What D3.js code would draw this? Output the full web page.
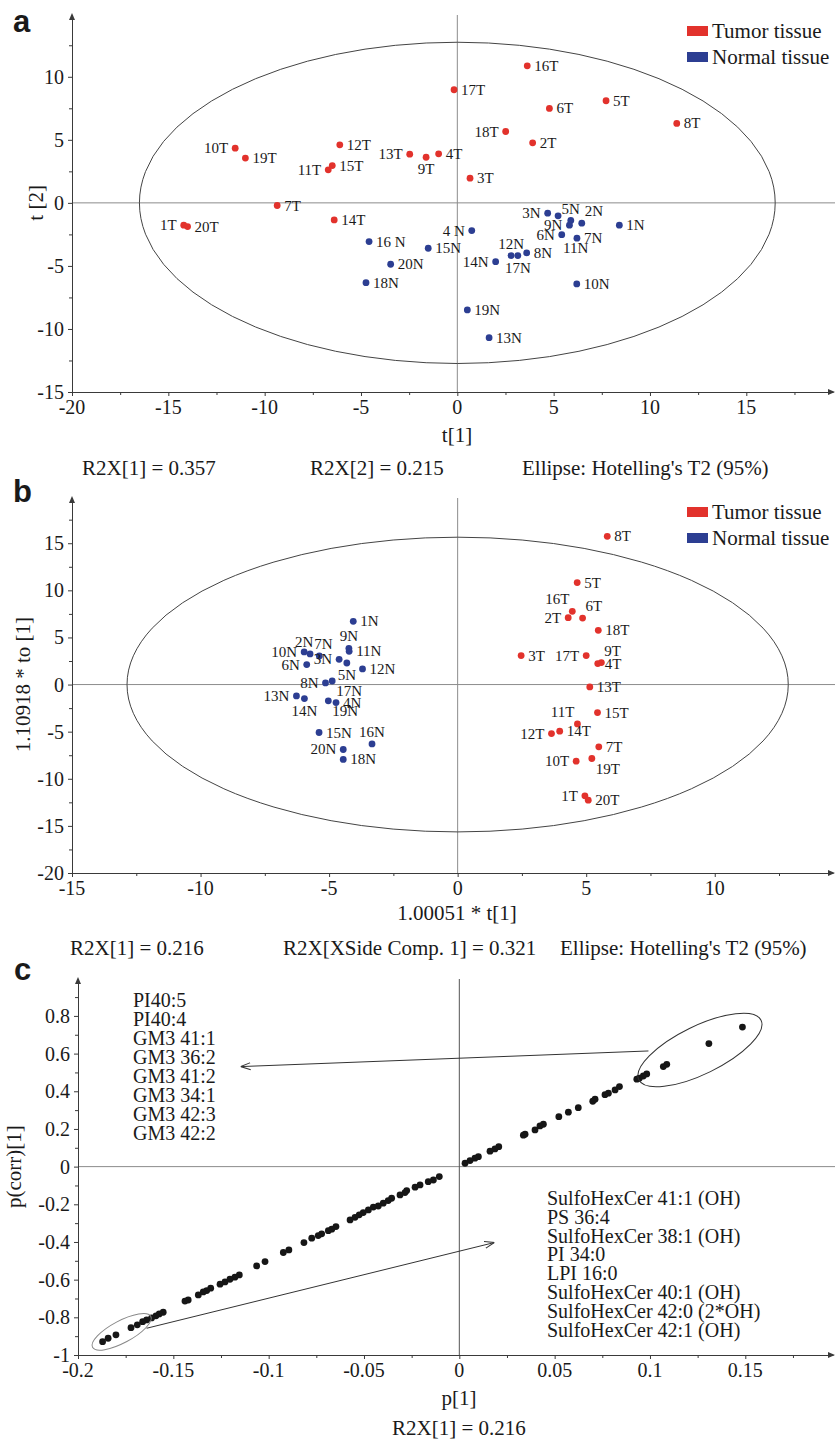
<!DOCTYPE html>
<html>
<head>
<meta charset="utf-8">
<script src="https://cdn.jsdelivr.net/npm/d3@7"></script>
<style>
body{margin:0;background:#fff}
svg text{font-family:"Liberation Serif","Times New Roman",serif;fill:#1a1a1a}
</style>
</head>
<body>
<svg id="fig" width="835" height="1439"></svg>
<script>
'use strict'

// ---------- panel a : PCA scores ----------
const tumorNamesA = ["1T","2T","3T","4T","5T","6T","7T","8T","9T","10T","11T","12T","13T","14T","15T","16T","17T","18T","19T","20T"]
const tumorXA = [-14.2, 3.91, 0.66, -0.97, 7.72, 4.78, -9.35, 11.39, -1.62, -11.53, -6.70, -6.10, -2.47, -6.39, -6.49, 3.63, -0.17, 2.51, -11.00, -14.00]
const tumorYA = [-1.77, 4.76, 1.96, 3.89, 8.10, 7.49, -0.21, 6.30, 3.62, 4.34, 2.62, 4.60, 3.86, -1.35, 2.96, 10.87, 8.97, 5.66, 3.55, -1.88]
const normalNamesA = ["1N","2N","3N","4 N","5N","6N","7N","8N","9N","10N","11N","12N","13N","14N","15N","16 N","17N","18N","19N","20N"]
const normalXA = [8.41, 6.46, 4.69, 0.75, 5.89, 5.42, 6.21, 3.60, 5.82, 6.20, 5.23, 2.79, 1.65, 1.99, -1.51, -4.58, 3.14, -4.74, 0.52, -3.46]
const normalYA = [-1.77, -1.61, -0.82, -2.20, -1.40, -2.52, -2.80, -3.97, -1.77, -6.43, -1.03, -4.18, -10.69, -4.66, -3.60, -3.07, -4.18, -6.33, -8.49, -4.87]
const xTicksA = [-20, -15, -10, -5, 0, 5, 10, 15]
const yTicksA = [-15, -10, -5, 0, 5, 10]
const ellipseA = [16.5, 12.74]
const footA = ["R2X[1] = 0.357", "R2X[2] = 0.215", "Ellipse: Hotelling's T2 (95%)"]

// ---------- panel b : OPLS-DA scores ----------
const tumorNamesB = tumorNamesA
const tumorXB = [4.95, 4.30, 2.47, 5.45, 4.65, 4.86, 5.49, 5.82, 5.59, 4.61, 4.66, 3.65, 5.14, 3.97, 5.44, 4.46, 5.00, 5.47, 5.22, 5.08]
const tumorYB = [-11.81, 7.10, 3.08, 2.23, 10.82, 7.06, -6.61, 15.73, 2.33, -8.13, -4.18, -5.20, -0.25, -4.95, -2.97, 7.77, 3.08, 5.76, -7.85, -12.27]
const normalNamesB = ["1N","2N","3N","4N","5N","6N","7N","8N","9N","10N","11N","12N","13N","14N","15N","16N","17N","18N","19N","20N"]
const normalXB = [-4.06, -5.74, -4.61, -4.73, -4.31, -5.87, -5.38, -5.14, -4.23, -5.97, -4.22, -3.70, -6.27, -5.96, -5.39, -3.33, -4.88, -4.45, -5.03, -4.45]
const normalYB = [6.71, 3.25, 2.68, -1.91, 2.29, 2.12, 3.03, 0.17, 3.85, 3.46, 3.53, 1.66, -1.21, -1.49, -5.09, -6.30, 0.38, -7.95, -1.73, -6.89]
const xTicksB = [-15, -10, -5, 0, 5, 10]
const yTicksB = [-20, -15, -10, -5, 0, 5, 10, 15]
const ellipseB = [12.86, 15.64]
const footB = ["R2X[1] = 0.216", "R2X[XSide Comp. 1] = 0.321", "Ellipse: Hotelling's T2 (95%)"]

// ---------- panel c : S-plot ----------
const loadP = [0.1485, 0.1309, 0.1088, 0.1070, 0.0983, 0.0965, 0.0944, 0.0931, 0.0840, 0.0817, 0.0782, 0.0764,
  0.0712, 0.0700, 0.0624, 0.0572, 0.0522, 0.0441, 0.0423, 0.0397, 0.0345, 0.0336, 0.0207, 0.0187, 0.0161,
  0.0100, 0.0082, 0.0056, 0.0030,
  -0.0105, -0.0136, -0.0163, -0.0206, -0.0232, -0.0276, -0.0285, -0.0311, -0.0355, -0.0373, -0.0399, -0.0425,
  -0.0451, -0.0477, -0.0504, -0.0525, -0.0547, -0.0573, -0.0647, -0.0669, -0.0687, -0.0722, -0.0740, -0.0774,
  -0.0815, -0.0894, -0.0923, -0.1019, -0.1063, -0.1154, -0.1177, -0.1203, -0.1229, -0.1255, -0.1304, -0.1325,
  -0.1343, -0.1369, -0.1422, -0.1439, -0.1553, -0.1574, -0.1591, -0.1614, -0.1640, -0.1661, -0.1689, -0.1722,
  -0.1801, -0.1842, -0.1871]
const loadCorr = [0.741, 0.653, 0.543, 0.531, 0.492, 0.481, 0.469, 0.464, 0.425, 0.407, 0.390, 0.382,
  0.358, 0.347, 0.313, 0.289, 0.265, 0.225, 0.216, 0.195, 0.172, 0.167, 0.106, 0.094, 0.082,
  0.053, 0.045, 0.032, 0.018,
  -0.053, -0.071, -0.080, -0.097, -0.109, -0.127, -0.138, -0.150, -0.168, -0.180, -0.194, -0.209,
  -0.215, -0.230, -0.244, -0.256, -0.269, -0.283, -0.318, -0.332, -0.340, -0.357, -0.366, -0.380,
  -0.403, -0.442, -0.456, -0.504, -0.527, -0.575, -0.587, -0.598, -0.612, -0.624, -0.645, -0.658,
  -0.665, -0.681, -0.708, -0.714, -0.773, -0.782, -0.792, -0.803, -0.814, -0.823, -0.840, -0.855,
  -0.893, -0.911, -0.929]
const xTicksC = [-0.2, -0.15, -0.1, -0.05, 0, 0.05, 0.1, 0.15]
const yTicksC = [-1, -0.8, -0.6, -0.4, -0.2, 0, 0.2, 0.4, 0.6, 0.8]
const upNames = ["PI40:5", "PI40:4", "GM3 41:1", "GM3 36:2", "GM3 41:2", "GM3 34:1", "GM3 42:3", "GM3 42:2"]
const downNames = ["SulfoHexCer 41:1 (OH)", "PS 36:4", "SulfoHexCer 38:1 (OH)", "PI 34:0", "LPI 16:0",
  "SulfoHexCer 40:1 (OH)", "SulfoHexCer 42:0 (2*OH)", "SulfoHexCer 42:1 (OH)"]
const upGroup = [0.1262, 0.619]
const downGroup = [-0.1771, -0.877]
const upArrow = [[0.0992, 0.614], [-0.1147, 0.531]]
const downArrow = [[-0.1640, -0.858], [0.0184, -0.403]]

// label sides (layout only)
const offs = {
	r: [7, 5, 'start'], l: [-7, 5, 'end'], a: [0, -7, 'middle'], b: [0, 17, 'middle'],
	ar: [3, -7, 'start'], al: [-3, -7, 'end'], br: [4, 15, 'start'], bl: [-4, 15, 'end'],
	aL: [-6, -7, 'middle'], aR: [4, -7, 'middle'], lowB: [5, 37, 'start']
}
const sideA = {
	"10T":"l","19T":"r","12T":"r","11T":"l","15T":"r","13T":"l","7T":"r","14T":"r","1T":"l","20T":"r",
	"16T":"r","17T":"r","6T":"r","5T":"r","8T":"r","18T":"l","2T":"r","9T":"b","4T":"r","3T":"r",
	"1N":"r","2N":"ar","3N":"l","4 N":"l","5N":"a","6N":"l","7N":"r","8N":"r","9N":"l","10N":"r",
	"11N":"lowB","12N":"a","13N":"r","14N":"l","15N":"r","16 N":"r","17N":"b","18N":"r","19N":"r","20N":"r"
}
const sideB = {
	"8T":"r","5T":"r","16T":"al","2T":"l","6T":"ar","18T":"r","3T":"r","17T":"l","9T":"ar","4T":"r",
	"13T":"r","15T":"r","11T":"al","12T":"l","14T":"r","7T":"r","10T":"l","19T":"br","1T":"l","20T":"r",
	"1N":"r","2N":"aL","10N":"l","7N":"aR","9N":"a","11N":"r","6N":"l","3N":"l","5N":"b","12N":"r",
	"8N":"l","17N":"br","13N":"l","14N":"b","4N":"r","19N":"br","15N":"r","16N":"a","20N":"l","18N":"r"
}

const svg = d3.select('#fig')
const red = '#e2322c', blue = '#2c3e92'
const axisCol = '#3a3a3a', zeroCol = '#8c8c8c'

function minorOf(ticks, n){
	let step = (ticks[1] - ticks[0]) / n, out = []
	for (let i = 0; i < ticks.length; i++){
		for (let k = 1; k < n; k++) out.push(+(ticks[i] + k * step).toFixed(5))
	}
	out.unshift(+(ticks[0] - step).toFixed(5))
	return out
}

function drawAxes(g, x, y, xt, yt){
	let bottom = y.range()[0], left = x.range()[0]
	let xr = x.range()[1], yt0 = y.range()[1]
	let xa = g.append('g').attr('transform', 'translate(0,' + bottom + ')')
		.call(d3.axisBottom(x).tickValues(xt).tickSize(4).tickSizeOuter(0).tickFormat(''))
	let xm = g.append('g').attr('transform', 'translate(0,' + bottom + ')')
		.call(d3.axisBottom(x).tickValues(minorOf(xt, 2).filter(v => x(v) > left && x(v) < xr - 6)).tickSize(3).tickFormat(''))
	let ya = g.append('g').attr('transform', 'translate(' + left + ',0)')
		.call(d3.axisLeft(y).tickValues(yt).tickSize(4).tickSizeOuter(0).tickFormat(''))
	let ym = g.append('g').attr('transform', 'translate(' + left + ',0)')
		.call(d3.axisLeft(y).tickValues(minorOf(yt, 2).filter(v => y(v) < bottom && y(v) > yt0 + 6)).tickSize(3).tickFormat(''))
	xm.select('.domain').remove()
	ym.select('.domain').remove()
	;[xa, xm, ya, ym].forEach(a => {
		a.selectAll('line').attr('stroke', axisCol)
		a.selectAll('.domain').attr('stroke', axisCol)
	})
	// tick labels in the figure's serif face
	g.selectAll(null).data(xt).enter().append('text')
		.attr('x', d => x(d)).attr('y', bottom + 22).attr('text-anchor', 'middle')
		.attr('font-size', 20).text(d => String(d))
	g.selectAll(null).data(yt).enter().append('text')
		.attr('x', left - 8).attr('y', d => y(d) + 7).attr('text-anchor', 'end')
		.attr('font-size', 20).text(d => String(d))
	// arrow heads
	g.append('path').attr('d', 'M' + (xr + 2) + ',' + bottom + 'l-7,-3l0,6z').attr('fill', axisCol)
	g.append('path').attr('d', 'M' + left + ',' + (yt0 - 2) + 'l-3,7l6,0z').attr('fill', axisCol)
}

function drawScores(o){
	let g = svg.append('g')
	let x = d3.scaleLinear().domain(o.xDom).range([o.left, 833])
	let y = d3.scaleLinear().domain(o.yDom).range([o.bottom, o.top])

	g.append('line').attr('x1', o.left).attr('x2', 835).attr('y1', y(0)).attr('y2', y(0)).attr('stroke', zeroCol)
	g.append('line').attr('x1', x(0)).attr('x2', x(0)).attr('y1', o.top).attr('y2', o.bottom).attr('stroke', zeroCol)
	g.append('ellipse').attr('cx', x(0)).attr('cy', y(0))
		.attr('rx', x(o.ell[0]) - x(0)).attr('ry', y(0) - y(o.ell[1]))
		.attr('fill', 'none').attr('stroke', '#444').attr('stroke-width', 1)

	drawAxes(g, x, y, o.xt, o.yt)

	o.series.forEach(function(s){
		let pts = s.names.map(function(n, i){ return {n: n, x: s.xs[i], y: s.ys[i]} })
		g.selectAll(null).data(pts).enter().append('circle')
			.attr('cx', d => x(d.x)).attr('cy', d => y(d.y)).attr('r', 3.4).attr('fill', s.color)
		g.selectAll(null).data(pts).enter().append('text')
			.attr('x', d => x(d.x) + offs[o.side[d.n]][0])
			.attr('y', d => y(d.y) + offs[o.side[d.n]][1])
			.attr('text-anchor', d => offs[o.side[d.n]][2])
			.attr('font-size', 15)
			.text(d => d.n)
	})

	// legend
	;[["Tumor tissue", red], ["Normal tissue", blue]].forEach(function(l, i){
		g.append('rect').attr('x', 687).attr('y', o.legTop + i * 26).attr('width', 21).attr('height', 10).attr('fill', l[1])
		g.append('text').attr('x', 712).attr('y', o.legTop + 12 + i * 26).attr('font-size', 21).text(l[0])
	})

	g.append('text').attr('x', 457).attr('y', o.xLabY).attr('text-anchor', 'middle').attr('font-size', 21).text(o.xLab)
	g.append('text').attr('transform', 'translate(' + o.yLabX + ',' + y(0) + ') rotate(-90)')
		.attr('text-anchor', 'middle').attr('font-size', 21).text(o.yLab)
	o.foot.forEach(function(t, i){
		g.append('text').attr('x', o.footX[i]).attr('y', o.footY).attr('font-size', 21).text(t)
	})
	g.append('text').attr('x', 13).attr('y', o.letterY).attr('font-size', 31).attr('font-weight', 'bold')
		.style('font-family', '"Liberation Sans", Arial, sans-serif').text(o.letter)
}

drawScores({
	letter: 'a', letterY: 32, left: 72, top: 15, bottom: 392,
	xDom: [-20, 19.5], yDom: [-15, 14.9], xt: xTicksA, yt: yTicksA, ell: ellipseA,
	series: [{names: tumorNamesA, xs: tumorXA, ys: tumorYA, color: red},
	         {names: normalNamesA, xs: normalXA, ys: normalYA, color: blue}],
	side: sideA, legTop: 26,
	xLab: 't[1]', xLabY: 442, yLab: 't [2]', yLabX: 43,
	foot: footA, footX: [82, 310, 522], footY: 475
})

drawScores({
	letter: 'b', letterY: 502, left: 72, top: 498, bottom: 873,
	xDom: [-15, 14.6], yDom: [-20, 19.8], xt: xTicksB, yt: yTicksB, ell: ellipseB,
	series: [{names: tumorNamesB, xs: tumorXB, ys: tumorYB, color: red},
	         {names: normalNamesB, xs: normalXB, ys: normalYB, color: blue}],
	side: sideB, legTop: 507,
	xLab: '1.00051 * t[1]', xLabY: 920, yLab: '1.10918 * to [1]', yLabX: 30,
	foot: footB, footX: [70, 283, 560], footY: 955
})

// ---------- panel c ----------
function drawSPlot(){
	let g = svg.append('g')
	let x = d3.scaleLinear().domain([-0.2, 0.196]).range([78, 833])
	let y = d3.scaleLinear().domain([-1, 0.996]).range([1355, 979])

	g.append('line').attr('x1', 78).attr('x2', 835).attr('y1', y(0)).attr('y2', y(0)).attr('stroke', zeroCol)
	g.append('line').attr('x1', x(0)).attr('x2', x(0)).attr('y1', 979).attr('y2', 1355).attr('stroke', '#555')

	drawAxes(g, x, y, xTicksC, yTicksC)

	let pts = loadP.map((v, i) => [v, loadCorr[i]])
	g.selectAll(null).data(pts).enter().append('circle')
		.attr('cx', d => x(d[0])).attr('cy', d => y(d[1])).attr('r', 3.4).attr('fill', '#161616')

	g.append('ellipse').attr('cx', 0).attr('cy', 0).attr('rx', 68).attr('ry', 24)
		.attr('transform', 'translate(' + x(upGroup[0]) + ',' + y(upGroup[1]) + ') rotate(-26)')
		.attr('fill', 'none').attr('stroke', '#333')
	g.append('ellipse').attr('cx', 0).attr('cy', 0).attr('rx', 33).attr('ry', 11)
		.attr('transform', 'translate(' + x(downGroup[0]) + ',' + y(downGroup[1]) + ') rotate(-28)')
		.attr('fill', 'none').attr('stroke', '#888')

	svg.append('defs').append('marker').attr('id', 'open').attr('viewBox', '0 -5 10 10')
		.attr('refX', 10).attr('refY', 0).attr('markerWidth', 10).attr('markerHeight', 10)
		.attr('markerUnits', 'userSpaceOnUse').attr('orient', 'auto')
		.append('path').attr('d', 'M0,-3.6L10,0L0,3.6').attr('fill', 'none').attr('stroke', '#333').attr('stroke-width', 1)
	;[upArrow, downArrow].forEach(function(a){
		g.append('line').attr('x1', x(a[0][0])).attr('y1', y(a[0][1])).attr('x2', x(a[1][0])).attr('y2', y(a[1][1]))
			.attr('stroke', '#333').attr('marker-end', 'url(#open)')
	})

	g.selectAll(null).data(upNames).enter().append('text')
		.attr('x', 133).attr('y', (d, i) => 1007 + i * 19).attr('font-size', 20).text(d => d)
	g.selectAll(null).data(downNames).enter().append('text')
		.attr('x', 547).attr('y', (d, i) => 1205 + i * 18.8).attr('font-size', 20).text(d => d)

	g.append('text').attr('x', 459).attr('y', 1405).attr('text-anchor', 'middle').attr('font-size', 21).text('p[1]')
	g.append('text').attr('x', 459).attr('y', 1435).attr('text-anchor', 'middle').attr('font-size', 21).text('R2X[1] = 0.216')
	g.append('text').attr('transform', 'translate(21,' + y(0) + ') rotate(-90)')
		.attr('text-anchor', 'middle').attr('font-size', 21).text('p(corr)[1]')
	g.append('text').attr('x', 14).attr('y', 980).attr('font-size', 31).attr('font-weight', 'bold')
		.style('font-family', '"Liberation Sans", Arial, sans-serif').text('c')
}
drawSPlot()
</script>
</body>
</html>
